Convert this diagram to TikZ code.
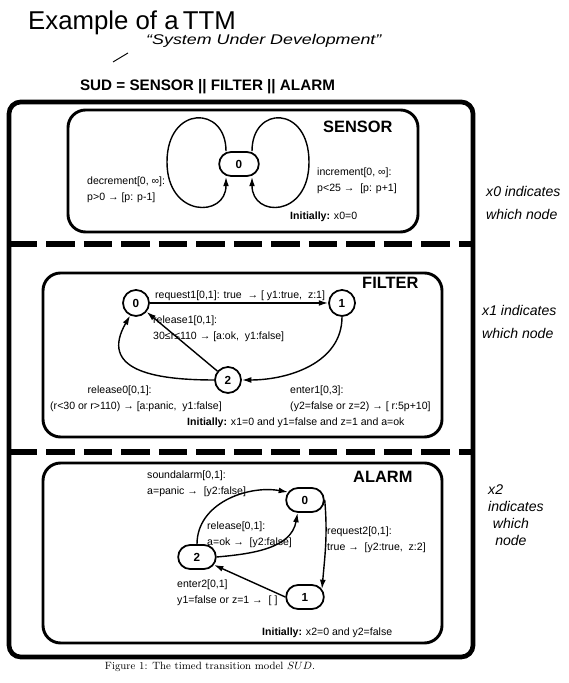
\documentclass[tikz,border=0pt]{standalone}
\usepackage{fontspec}
\setsansfont{Liberation Sans}
\usepackage{tikz}
\usetikzlibrary{arrows.meta,shapes.misc,calc}
\tikzset{
  lbl/.style={font=\sffamily\fontsize{9}{13.5}\selectfont, align=left, anchor=west, inner sep=0pt},
  ttl/.style={font=\sffamily\bfseries\fontsize{14}{16}\selectfont, anchor=west, inner sep=0pt},
  hand/.style={font=\sffamily\itshape\fontsize{12}{19}\selectfont, align=left, anchor=west, inner sep=0pt},
  loc/.style={draw, rounded rectangle, line width=1.5pt, minimum width=1.2cm, minimum height=0.72cm, inner sep=1pt, font=\sffamily\bfseries\fontsize{10}{12}\selectfont},
  cir/.style={draw, circle, line width=1.5pt, minimum size=0.78cm, inner sep=0pt, font=\sffamily\bfseries\fontsize{10}{12}\selectfont},
  arr/.style={draw, line width=1.2pt, -{Latex[length=8pt,width=5pt]}},
  frame/.style={draw, line width=4pt, rounded corners=10pt},
  part/.style={draw, line width=2.5pt, rounded corners=15pt},
  sep/.style={draw, line width=5pt, dash pattern=on 24pt off 8pt}
}

\begin{document}
\begin{tikzpicture}[x=0.03cm, y=0.03cm]
\useasboundingbox (0,0) rectangle (568,683);
\node[hand, font=\sffamily\fontsize{22}{24}\selectfont] (head) at (28,660) {Example of a\,TTM};
\node[hand, font=\sffamily\itshape\fontsize{12}{14}\selectfont] (sudnote) at (146,642) {\scalebox{1.27}[1]{“System Under Development”}};
\coordinate (p1) at (113,621);
\coordinate (p2) at (128,630);
\draw[line width=0.8pt] (p1) -- (p2);
\node[font=\sffamily\bfseries\fontsize{13}{15}\selectfont, inner sep=0pt] (sud) at (207.5,596) {SUD = SENSOR \textbar\textbar{} FILTER \textbar\textbar{} ALARM};

\draw[frame] (9,26) rectangle (473,581);
\draw[part] (68,451) rectangle (418,573);
\draw[part] (43,246) rectangle (442,410);
\draw[part] (43,40) rectangle (442,220);
\draw[sep] (9,439) -- (473,439);
\draw[sep] (9,231) -- (473,231);

\node[ttl] (sensor) at (323,556) {SENSOR};
\node[loc, minimum width=1.26cm] (s0) at (239,519) {0};
\draw[arr] ($(s0.north)+(-13,0)$) .. controls (226,578) and (167,578) .. (167,521) .. controls (167,465) and (226,465) .. ($(s0.south)+(-13,0)$);
\draw[arr] ($(s0.north)+(13,0)$) .. controls (252,578) and (309,578) .. (309,521) .. controls (309,465) and (252,465) .. ($(s0.south)+(13,0)$);
\node[lbl] (dec) at (87,493) {decrement[0, ∞]:\\p>0 → [p: p-1]};
\node[lbl] (inc) at (317,502) {increment[0, ∞]:\\p<25 → \ [p: p+1]};
\node[lbl] (ini0) at (290,466) {\textbf{Initially:} x0=0};

\node[ttl] (filter) at (362,400) {FILTER};
\node[cir] (f0) at (136,380) {0};
\node[cir] (f1) at (342,380) {1};
\node[cir] (f2) at (228,303) {2};
\draw[arr] (f0) -- (f1);
\draw[arr] (f2) -- (f0);
\draw[arr] (f2.west) to[out=180, in=-120, looseness=1.5] (f0.-115);
\draw[arr] (f1.south) to[out=-90, in=0] (f2.east);
\node[lbl] (req1) at (155,387) {request1[0,1]: true \ → [ y1:true, \ z:1]};
\node[lbl] (rel1) at (153,354) {release1[0,1]:\\30≤r≤110 → [a:ok, \ y1:false]};
\node[lbl] (rel0) at (50,284) {\hspace*{32pt}release0[0,1]:\\(r<30 or r>110) → [a:panic, \ y1:false]};
\node[lbl] (ent1) at (290,284) {enter1[0,3]:\\(y2=false or z=2) → [ r:5p+10]};
\node[lbl] (ini1) at (187,260) {\textbf{Initially:} x1=0 and y1=false and z=1 and a=ok};

\node[ttl] (alarm) at (353,206) {ALARM};
\node[loc] (a0) at (305,183) {0};
\node[loc] (a2) at (197,126) {2};
\node[loc] (a1) at (305,86) {1};
\draw[arr] (a2.north) to[out=90, in=170] (a0.155);
\draw[arr] (a2.east) to[out=5, in=-100] (a0.-120);
\draw[arr] (a0.east) to[out=-85, in=85] (a1.25);
\draw[arr] (a1.west) -- (a2.-25);
\node[lbl] (snd) at (147,199) {soundalarm[0,1]:\\a=panic → \ [y2:false]};
\node[lbl] (rel) at (207,148) {release[0,1]:\\a=ok → \ [y2:false]};
\node[lbl] (req2) at (327,143) {request2[0,1]:\\true → \ [y2:true, \ z:2]};
\node[lbl] (ent2) at (177,90) {enter2[0,1]\\y1=false or z=1 → \ [ ]};
\node[lbl] (ini2) at (262,50) {\textbf{Initially:} x2=0 and y2=false};

\node[hand] (n0) at (486,480) {x0 indicates\\which node};
\node[hand] (n1) at (482,361) {x1 indicates\\which node};
\node[hand, font=\sffamily\itshape\fontsize{12}{14.5}\selectfont] (n2) at (488,168) {x2\\indicates\\\hspace*{4pt}which\\\hspace*{6pt}node};

\node[font=\fontsize{9}{11}\selectfont, inner sep=0pt] (cap) at (210,16) {Figure 1: The timed transition model $SUD$.};
\end{tikzpicture}
\end{document}
